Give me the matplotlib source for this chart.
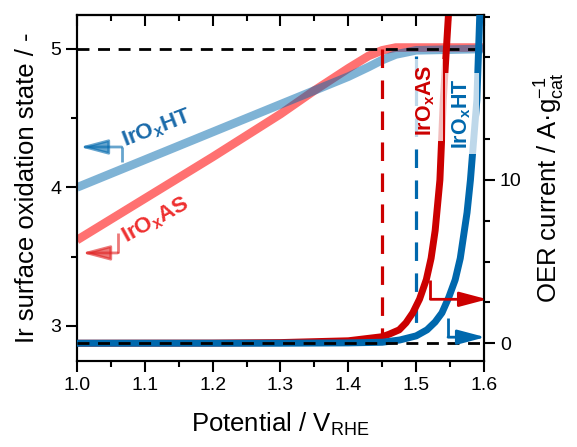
import matplotlib
matplotlib.use('Agg')
import matplotlib.pyplot as plt
from matplotlib.ticker import MultipleLocator

plt.rcParams['font.family'] = ['Liberation Sans', 'DejaVu Sans']
plt.rcParams['mathtext.fontset'] = 'custom'
plt.rcParams['mathtext.rm'] = 'Liberation Sans'
plt.rcParams['mathtext.it'] = 'Liberation Sans:italic'
plt.rcParams['mathtext.bf'] = 'Liberation Sans:bold'
plt.rcParams['mathtext.default'] = 'regular'

# ---------------- data ----------------
# Ir surface oxidation state (left axis)
pot_state_as = [1.00, 1.10, 1.20, 1.30, 1.35, 1.40, 1.43, 1.45, 1.47, 1.60]
state_as = [3.62, 3.92, 4.22, 4.53, 4.70, 4.86, 4.95, 4.99, 5.01, 5.01]
pot_state_ht = [1.00, 1.10, 1.20, 1.30, 1.35, 1.40, 1.43, 1.45, 1.47, 1.50, 1.60]
state_ht = [4.00, 4.20, 4.40, 4.60, 4.70, 4.80, 4.87, 4.92, 4.96, 4.99, 5.00]

# OER current (right axis)
pot_oer_as = [1.00, 1.20, 1.30, 1.40, 1.45, 1.46, 1.475, 1.485, 1.495, 1.505,
              1.515, 1.522, 1.528, 1.535, 1.540, 1.548]
cur_oer_as = [0.0, 0.01, 0.04, 0.15, 0.40, 0.55, 0.82, 1.25, 1.86, 2.70,
              3.90, 5.20, 6.90, 10.0, 14.9, 20.4]
pot_oer_ht = [1.00, 1.30, 1.40, 1.45, 1.476, 1.500, 1.516, 1.528, 1.538, 1.548,
              1.5575, 1.565, 1.570, 1.575, 1.580, 1.5895, 1.594]
cur_oer_ht = [0.0, 0.0, 0.02, 0.06, 0.20, 0.45, 0.82, 1.30, 1.86, 2.80,
              3.88, 5.20, 6.60, 8.00, 10.0, 14.9, 20.4]

onset_as = 1.45
onset_ht = 1.50
max_state = 5.0

xticks = [1.0, 1.1, 1.2, 1.3, 1.4, 1.5, 1.6]
yticks_left = [3, 4, 5]
yticks_right = [0, 10]

# ---------------- colours ----------------
red_dark = '#cc0000'
blue_dark = '#0068ad'
red_light = '#ff4d4d'
blue_light = '#0068ad'

fig = plt.figure(figsize=(5.77, 4.47), dpi=100)
ax = fig.add_axes([0.13345, 0.19306, 0.70537, 0.77338])
ax2 = ax.twinx()

# state curves
ax.plot(pot_state_as, state_as, color=red_light, alpha=0.8, lw=6.2,
        solid_capstyle='butt', zorder=2)
ax.plot(pot_state_ht, state_ht, color=blue_light, alpha=0.5, lw=6.2,
        solid_capstyle='butt', zorder=3)

# reference dashed lines
ax.axhline(max_state, color='black', lw=2.0, dashes=(4.3, 3.1), zorder=4)
ax.plot([onset_as, onset_as], [max_state, 2.92], color=red_dark, lw=2.3,
        dashes=(5.8, 3.9), zorder=4)
ax.plot([onset_ht, onset_ht], [4.95, 2.92], color=blue_dark, lw=2.3,
        dashes=(5.8, 3.9), zorder=4)

# OER curves
ax2.plot(pot_oer_as, cur_oer_as, color=red_dark, lw=5, solid_capstyle='butt', zorder=2)
ax2.plot(pot_oer_ht, cur_oer_ht, color=blue_dark, lw=5, solid_capstyle='butt', zorder=3)
ax2.axhline(0, color='black', lw=2.0, dashes=(4.3, 3.1), zorder=4)


def elbow_arrow(a, x_stem, y_start, y_corner, x_tip, color, alpha):
    a.plot([x_stem, x_stem], [y_start, y_corner], color=color, lw=2.0,
           alpha=alpha, solid_capstyle='butt', clip_on=False, zorder=5)
    a.annotate('', xy=(x_tip, y_corner), xytext=(x_stem, y_corner),
               arrowprops=dict(arrowstyle='-|>,head_length=1.7,head_width=0.45',
                               color=color, lw=2.0, alpha=alpha,
                               shrinkA=0, shrinkB=0),
               annotation_clip=False, zorder=5)


# left-axis pointers
elbow_arrow(ax, 1.066, 4.184, 4.292, 1.004, blue_dark, 0.6)
elbow_arrow(ax, 1.060, 3.671, 3.527, 1.007, '#e02020', 0.6)
ax.text(1.0708, 4.292, r'IrO$_\mathbf{x}$HT', color='#1a6aaa', fontsize=16,
        fontweight='bold', rotation=21, rotation_mode='anchor',
        ha='left', va='baseline', zorder=6)
ax.text(1.0723, 3.599, r'IrO$_\mathbf{x}$AS', color='#ee3030', fontsize=16,
        fontweight='bold', rotation=29, rotation_mode='anchor',
        ha='left', va='baseline', zorder=6)

# right-axis pointers
elbow_arrow(ax2, 1.521, 3.88, 2.69, 1.605, red_dark, 1.0)
elbow_arrow(ax2, 1.547, 1.55, 0.37, 1.602, blue_dark, 1.0)

# vertical labels on OER curves
bb = dict(boxstyle='square,pad=0.25', facecolor='white', edgecolor='none', alpha=0.75)
ax2.text(1.5147, 14.9, r'IrO$_\mathbf{x}$AS', color=red_dark, fontsize=15.5,
         fontweight='bold', rotation=90, ha='center', va='center', bbox=bb, zorder=6)
ax2.text(1.5678, 14.07, r'IrO$_\mathbf{x}$HT', color=blue_dark, fontsize=15.5,
         fontweight='bold', rotation=90, ha='center', va='center', bbox=bb, zorder=6)

# ---------------- axes ----------------
ax.set_xlim(1.0, 1.6)
ax.set_ylim(2.749, 5.245)
ax2.set_ylim(-1.07, 20.1)

ax.set_xticks(xticks)
ax.set_xticklabels([f'{t:.1f}' for t in xticks])
ax.xaxis.set_minor_locator(MultipleLocator(0.05))
ax.set_yticks(yticks_left)
ax.yaxis.set_minor_locator(MultipleLocator(0.5))
ax2.set_yticks(yticks_right)
ax2.yaxis.set_minor_locator(MultipleLocator(2.5))

for a in (ax, ax2):
    for s in a.spines.values():
        s.set_linewidth(1.5)

ax.tick_params(axis='both', which='major', direction='out', length=8, width=1.5,
               labelsize=14, right=False, top=False)
ax.tick_params(axis='both', which='minor', direction='out', length=4.5, width=1.5,
               right=False, top=False)
ax2.tick_params(axis='y', which='major', direction='out', length=8, width=1.5, labelsize=14)
ax2.tick_params(axis='y', which='minor', direction='out', length=4.5, width=1.5)

top = ax.secondary_xaxis('top')
top.set_xticks(xticks)
top.xaxis.set_minor_locator(MultipleLocator(0.05))
top.tick_params(which='major', direction='in', length=8, width=1.5, labeltop=False)
top.tick_params(which='minor', direction='in', length=4.5, width=1.5)
top.spines['top'].set_linewidth(1.5)

ax.set_xlabel('Potential / V$_{RHE}$', fontsize=18.5, labelpad=12)
ax.set_ylabel('Ir surface oxidation state / -', fontsize=18.5, labelpad=8)
ax2.set_ylabel('OER current / A·$g_{cat}^{-1}$', fontsize=18.5, labelpad=8)

fig.savefig('out.png', dpi=100)
